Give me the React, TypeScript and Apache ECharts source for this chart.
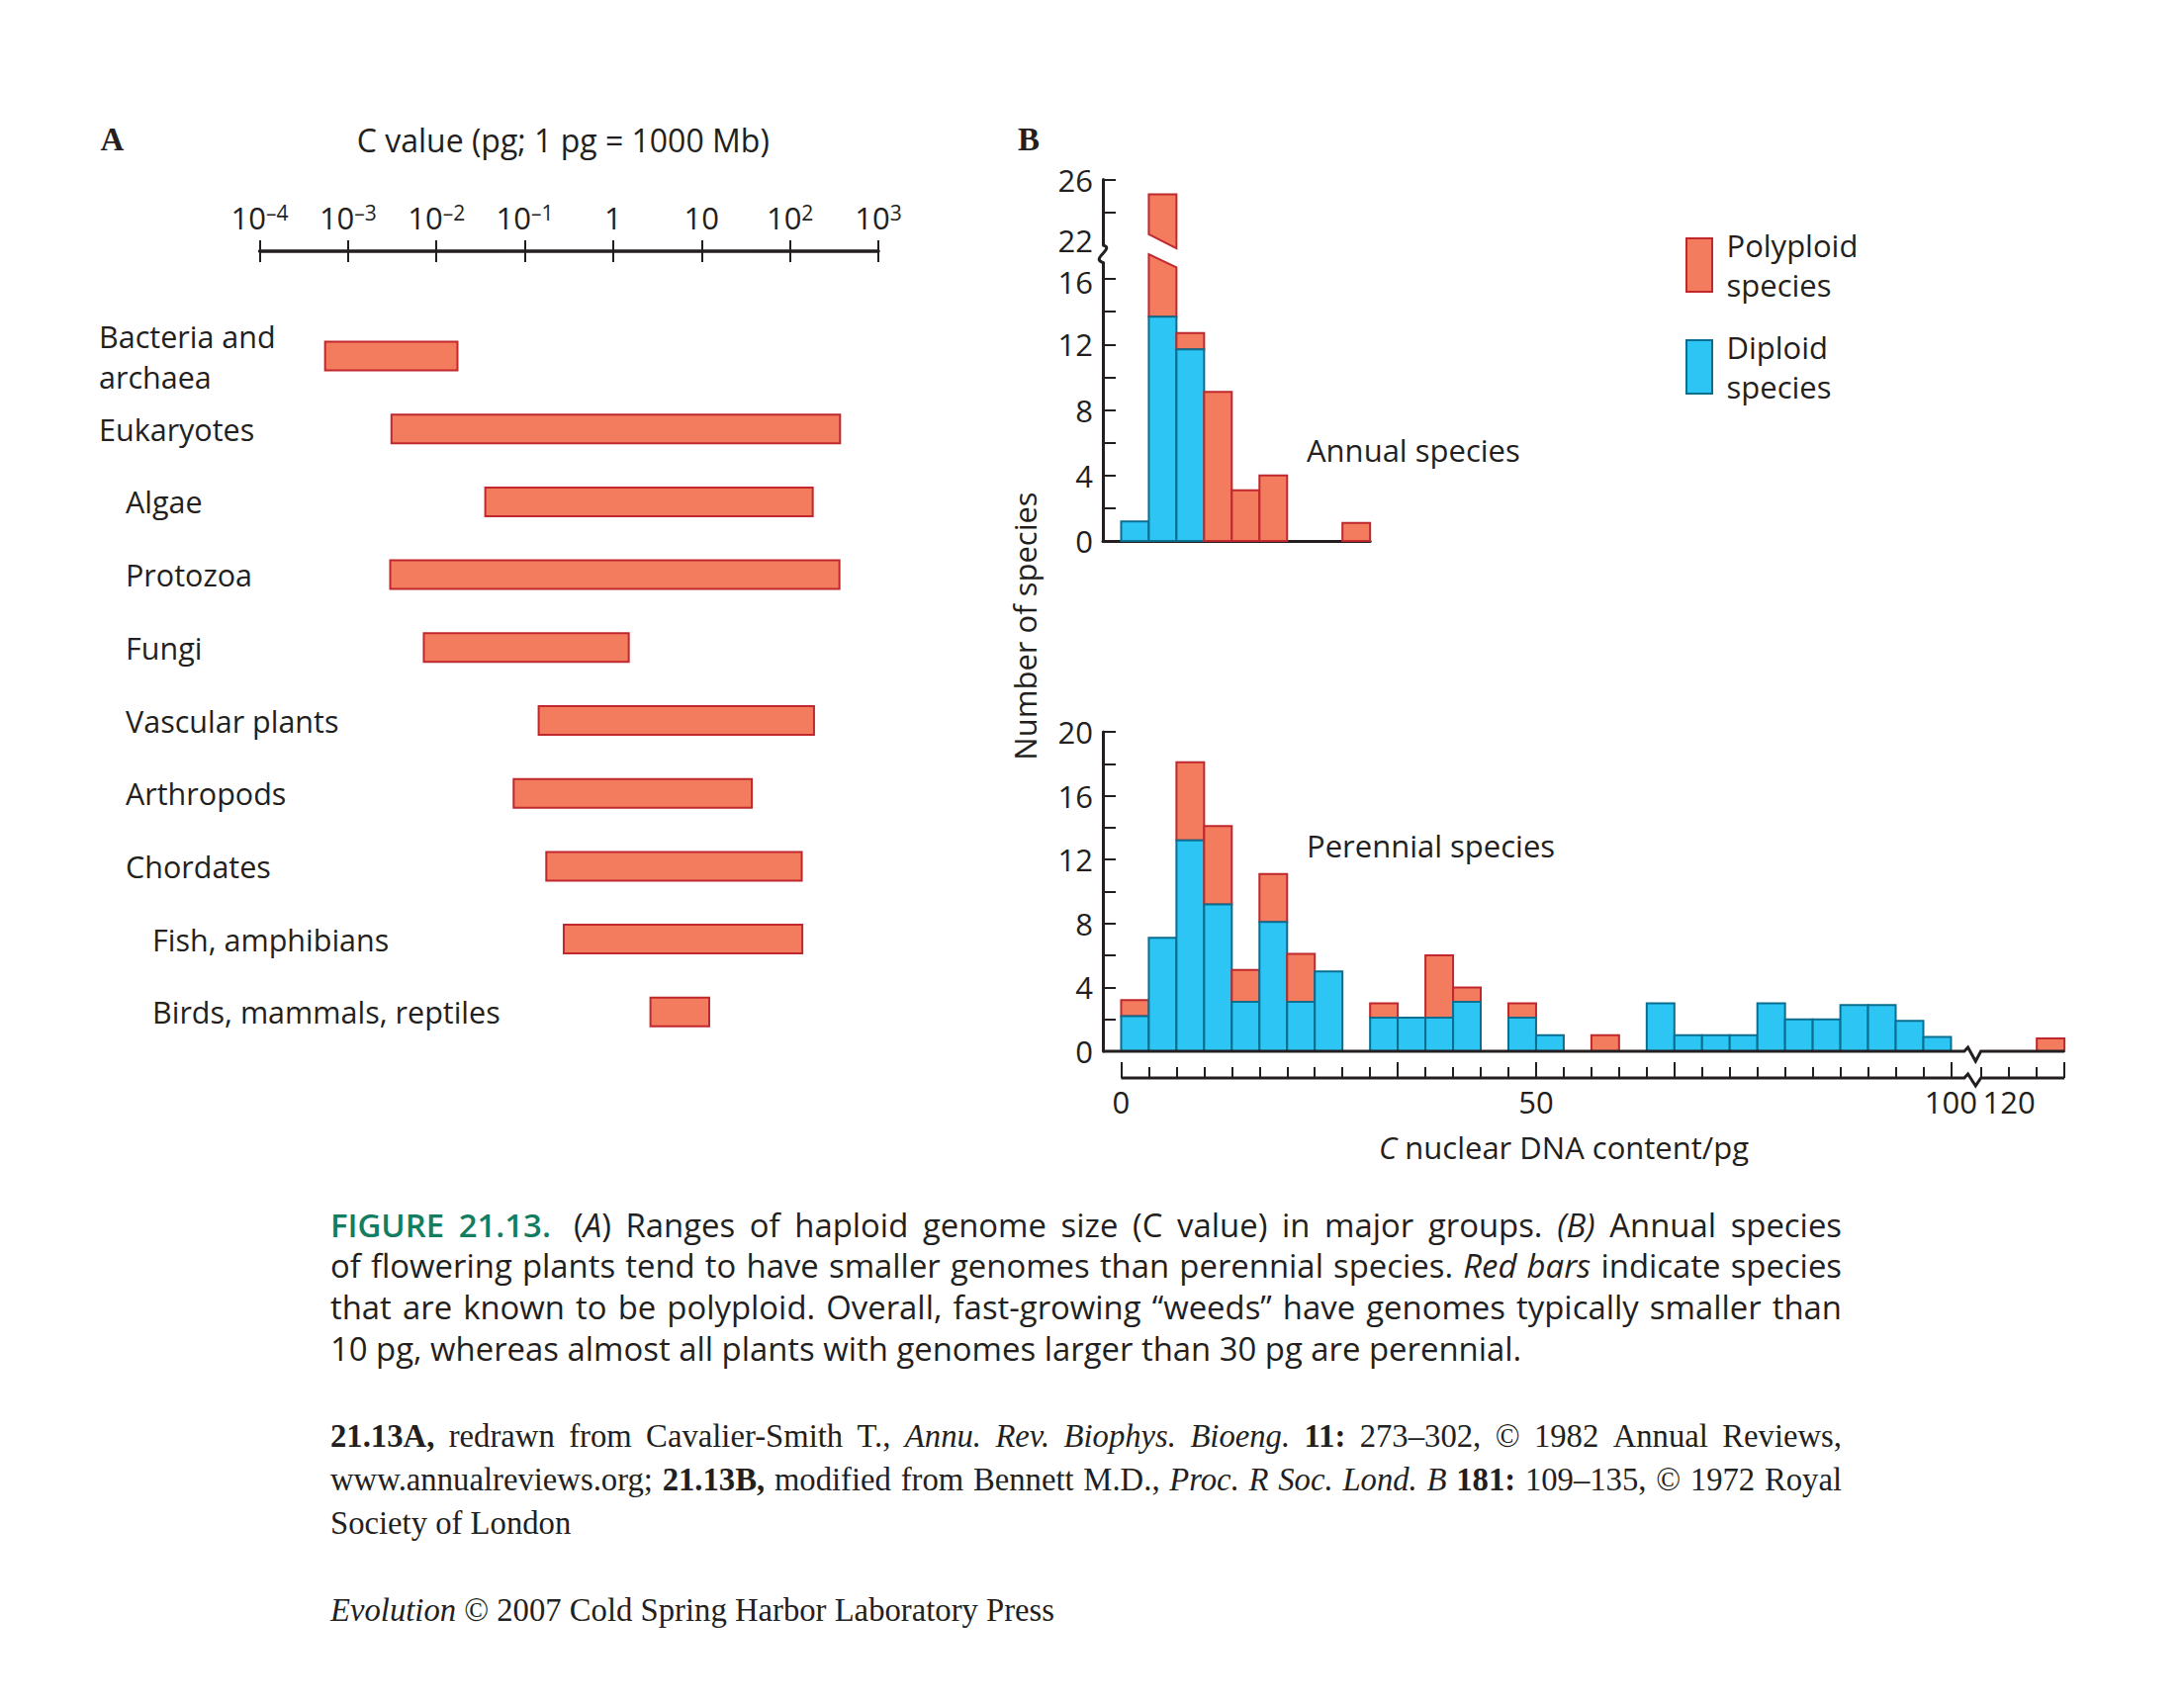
import React, { useEffect, useRef } from 'react';
import * as echarts from 'echarts';

const PAGE_W = 2208;
const PAGE_H = 1722;
const INK = '#231F20';
const SALMON = '#F37B5E';
const SALMON_EDGE = '#C0282E';
const BLUE = '#2CC5F4';
const BLUE_EDGE = '#0A6E91';
const GREEN = '#127D5F';
const SANS = 'Open Sans';
const SERIF = 'Liberation Serif';

// ---------------- Panel A data ----------------
const groupNames = [
  'Bacteria and\narchaea',
  'Eukaryotes',
  'Algae',
  'Protozoa',
  'Fungi',
  'Vascular plants',
  'Arthropods',
  'Chordates',
  'Fish, amphibians',
  'Birds, mammals, reptiles',
];
const groupIndent = [0, 0, 1, 1, 1, 1, 1, 1, 2, 2];
const cValueLow = [0.00055, 0.0031, 0.0357, 0.003, 0.0072, 0.1435, 0.0748, 0.175, 0.276, 2.64];
const cValueHigh = [0.0173, 369, 181, 363, 1.5, 187, 37, 136, 138, 12.2];
const cTickValues = [0.0001, 0.001, 0.01, 0.1, 1, 10, 100, 1000];
const cTickBase = ['10', '10', '10', '10', '1', '10', '10', '10'];
const cTickExp = ['–4', '–3', '–2', '–1', '', '', '2', '3'];

// ---------------- Panel B data ----------------
const BIN_W = 3.333;
const annualBinStart = [0, 3.333, 6.667, 10, 13.333, 16.667, 26.667];
const annualDiploid = [1.2, 13.7, 11.7, 0, 0, 0, 0];
const annualPolyploid = [0, 11.4, 1.0, 9.1, 3.1, 4.0, 1.1];
const annualLowerYTicks = [0, 2, 4, 6, 8, 10, 12, 14, 16];
const annualLowerYLabels = [0, 4, 8, 12, 16];
const annualUpperYTicks = [24, 26];
const annualUpperYLabels = [22, 26];
// slanted cut of the broken bar (left edge, right edge)
const annualLowerCut = [17.5, 16.7];
const annualUpperCut = [22.66, 21.8];

const perennialBinStart = [
  0, 3.333, 6.667, 10, 13.333, 16.667, 20, 23.333, 26.667, 30,
  33.333, 36.667, 40, 43.333, 46.667, 50, 53.333, 56.667, 60, 63.333,
  66.667, 70, 73.333, 76.667, 80, 83.333, 86.667, 90, 93.333, 96.667,
  123.333,
];
const perennialDiploid = [
  2.2, 7.1, 13.2, 9.2, 3.1, 8.1, 3.1, 5.0, 0, 2.1,
  2.1, 2.1, 3.1, 0, 2.1, 1.0, 0, 0, 0, 3.0,
  1.0, 1.0, 1.0, 3.0, 2.0, 2.0, 2.9, 2.9, 1.9, 0.9,
  0,
];
const perennialPolyploid = [
  1.0, 0, 4.9, 4.9, 2.0, 3.0, 3.0, 0, 0, 0.9,
  0, 3.9, 0.9, 0, 0.9, 0, 0, 1.0, 0, 0,
  0, 0, 0, 0, 0, 0, 0, 0, 0, 0,
  0.8,
];
const perennialYTicks = [0, 2, 4, 6, 8, 10, 12, 14, 16, 18, 20];
const perennialYLabels = [0, 4, 8, 12, 16, 20];
const pgTickValues = [
  0, 3.333, 6.667, 10, 13.333, 16.667, 20, 23.333, 26.667, 30,
  33.333, 36.667, 40, 43.333, 46.667, 50, 53.333, 56.667, 60, 63.333,
  66.667, 70, 73.333, 76.667, 80, 83.333, 86.667, 90, 93.333, 96.667,
  100, 116.667, 120, 123.333, 126.667,
];
const pgTallTickValues = [0, 33.333, 50, 66.667, 100, 126.667];
const pgLabelValues = [0, 50, 100, 120];
const legendNames = ['Polyploid\nspecies', 'Diploid\nspecies'];

// ---------------- Caption text ----------------
const captionLines = [
  [
    { t: 'FIGURE 21.13.', s: 'fig' },
    { t: '  (', s: 'n' },
    { t: 'A', s: 'i' },
    { t: ') Ranges of haploid genome size (C value) in major groups. ', s: 'n' },
    { t: '(B)', s: 'i' },
    { t: ' Annual species', s: 'n' },
  ],
  [
    { t: 'of flowering plants tend to have smaller genomes than perennial species. ', s: 'n' },
    { t: 'Red bars', s: 'i' },
    { t: ' indicate species', s: 'n' },
  ],
  [{ t: 'that are known to be polyploid. Overall, fast-growing “weeds” have genomes typically smaller than', s: 'n' }],
  [{ t: '10 pg, whereas almost all plants with genomes larger than 30 pg are perennial.', s: 'n' }],
];
const refLines = [
  [
    { t: '21.13A,', s: 'b' },
    { t: ' redrawn from Cavalier-Smith T., ', s: 'n' },
    { t: 'Annu. Rev. Biophys. Bioeng.', s: 'i' },
    { t: ' ', s: 'n' },
    { t: '11:', s: 'b' },
    { t: ' 273–302, © 1982 Annual Reviews,', s: 'n' },
  ],
  [
    { t: 'www.annualreviews.org; ', s: 'n' },
    { t: '21.13B,', s: 'b' },
    { t: ' modified from Bennett M.D., ', s: 'n' },
    { t: 'Proc. R Soc. Lond. B', s: 'i' },
    { t: ' ', s: 'n' },
    { t: '181:', s: 'b' },
    { t: ' 109–135, © 1972 Royal', s: 'n' },
  ],
  [{ t: 'Society of London', s: 'n' }],
];
const creditLine = [
  { t: 'Evolution', s: 'i' },
  { t: ' © 2007 Cold Spring Harbor Laboratory Press', s: 'n' },
];

// ---------------- Layout constants ----------------
const A_X0 = 262.5;
const A_X1 = 888;
const A_AXIS_Y = 254;
const A_ROW0 = 360;
const A_ROW_STEP = 73.7;
const A_GRID_TOP = A_ROW0 - A_ROW_STEP / 2;
const A_LABEL_X = 100;
const A_INDENT = 27;
const A_BAR_H = 29;

const B_AXIS_X = 1115;
const B_PX = 8.39;
const B_XMIN = -2.2;
const ANNUAL_XMAX = 30;
const BREAK_SHIFT = 13;
const PER_XMAX = 126.667 - BREAK_SHIFT;
const NOTCH = [101.6, 103.6];
const AU_TOP = 181.5;
const AU_MIN = 22;
const AU_MAX = 26;
const AU_H = (AU_MAX - AU_MIN) * 16.6;
const AL_BOTTOM = 547;
const AL_MAX = 17;
const AL_H = AL_MAX * 16.56;
const AL_TOP = AL_BOTTOM - AL_H;
const P_TOP = 740;
const P_BOTTOM = 1063;
const AXIS_OFFSET = 27;

const CAP_LEFT = 334;
const CAP_RIGHT = 1862;
const CAP_Y0 = 1238;
const CAP_DY = 41.8;
const CAP_LAST_W = 1255;
const REF_Y0 = 1452;
const REF_DY = 44;
const CREDIT_Y = 1628;
const CREDIT_W = 780;

const toAxis = (v: number) => (v > 110 ? v - BREAK_SHIFT : v);
const fromAxis = (v: number) => (v > 102 ? v + BREAK_SHIFT : v);

// ---------------- Text layout helpers ----------------
function splitWords(runs: any[]) {
  const words: any[] = [];
  let cur: any = null;
  let extra = 0;
  for (const r of runs) {
    const parts = r.t.split(' ');
    parts.forEach((p: string, k: number) => {
      if (k > 0) {
        if (cur) {
          words.push(cur);
          cur = null;
        } else if (words.length) {
          extra++;
        }
      }
      if (p) {
        if (!cur) {
          cur = { runs: [], extra };
          extra = 0;
        }
        cur.runs.push({ t: p, s: r.s });
      }
    });
  }
  if (cur) words.push(cur);
  return words;
}

function makeMeasurer() {
  const ctx = document.createElement('canvas').getContext('2d') as CanvasRenderingContext2D;
  return (text: string, st: any, size: number) => {
    ctx.font = `${st.fontStyle || 'normal'} ${st.fontWeight || 'normal'} ${size}px "${st.fontFamily}"`;
    return ctx.measureText(text).width;
  };
}

function naturalWidth(runs: any[], styles: any, size: number, measure: any) {
  const words = splitWords(runs);
  const sp = measure(' ', styles.n, size);
  let w = 0;
  words.forEach((wd: any, i: number) => {
    wd.runs.forEach((r: any) => (w += measure(r.t, styles[r.s], size)));
    if (i > 0) w += sp * (1 + wd.extra);
  });
  return w;
}

// font size: the last line fits its reference width, justified lines fit the column
function fitSize(lines: any[], lastRuns: any[], lastW: number, colW: number, styles: any, measure: any) {
  let size = (100 * lastW) / naturalWidth(lastRuns, styles, 100, measure);
  lines.forEach((ln: any) => {
    const s = (100 * colW * 0.985) / naturalWidth(ln, styles, 100, measure);
    if (s < size) size = s;
  });
  return size;
}

function layoutLine(runs: any[], styles: any, size: number, left: number, width: number, y: number, justify: boolean, measure: any) {
  const words = splitWords(runs);
  const widths = words.map((wd: any) => wd.runs.reduce((a: number, r: any) => a + measure(r.t, styles[r.s], size), 0));
  const sp = measure(' ', styles.n, size);
  const extras = words.reduce((a: number, wd: any) => a + wd.extra, 0);
  const total = widths.reduce((a: number, b: number) => a + b, 0) + extras * sp;
  const gap = justify && words.length > 1 ? (width - total) / (words.length - 1) : sp;
  const els: any[] = [];
  let x = left;
  words.forEach((wd: any, i: number) => {
    if (i > 0) x += gap + wd.extra * sp;
    wd.runs.forEach((r: any) => {
      const st = styles[r.s];
      els.push({
        type: 'text',
        x,
        y,
        silent: true,
        style: {
          text: r.t,
          fill: st.fill,
          fontSize: size,
          fontFamily: st.fontFamily,
          fontWeight: st.fontWeight || 'normal',
          fontStyle: st.fontStyle || 'normal',
          align: 'left',
          verticalAlign: 'middle',
          textAlign: 'left',
          textVerticalAlign: 'middle',
        },
      });
      x += measure(r.t, st, size);
    });
  });
  return els;
}

function textEl(x: number, y: number, text: string, extra: any = {}) {
  return {
    type: 'text',
    x,
    y,
    silent: true,
    rotation: extra.rotation || 0,
    style: {
      text,
      fill: INK,
      fontSize: extra.fontSize || 31,
      fontFamily: extra.fontFamily || SANS,
      fontWeight: extra.fontWeight || 'normal',
      lineHeight: extra.lineHeight,
      rich: extra.rich,
      align: extra.align || 'left',
      verticalAlign: 'middle',
      textAlign: extra.align || 'left',
      textVerticalAlign: 'middle',
    },
  };
}

// ---------------- Render helpers ----------------
const polyStyle = { fill: SALMON, stroke: SALMON_EDGE, lineWidth: 2 };
const dipStyle = { fill: BLUE, stroke: BLUE_EDGE, lineWidth: 2 };

function histRender(mode: string) {
  return (params: any, api: any) => {
    const s = api.value(0);
    const e = api.value(1);
    const d = api.value(2);
    const p = api.value(3);
    const x0 = api.coord([s, 0])[0];
    const x1 = api.coord([e, 0])[0];
    const y = (v: number) => api.coord([s, v])[1];
    const total = d + p;
    const kids: any[] = [];
    if (mode === 'upper') {
      if (total > AU_MIN) {
        kids.push({
          type: 'polygon',
          shape: { points: [[x0, y(annualUpperCut[0])], [x1, y(annualUpperCut[1])], [x1, y(total)], [x0, y(total)]] },
          style: polyStyle,
        });
      }
      return { type: 'group', children: kids };
    }
    if (p > 0) {
      if (mode === 'lower' && total > AL_MAX) {
        kids.push({
          type: 'polygon',
          shape: { points: [[x0, y(d)], [x1, y(d)], [x1, y(annualLowerCut[1])], [x0, y(annualLowerCut[0])]] },
          style: polyStyle,
        });
      } else {
        kids.push({ type: 'rect', shape: { x: x0, y: y(total), width: x1 - x0, height: y(d) - y(total) }, style: polyStyle });
      }
    }
    if (d > 0) {
      kids.push({ type: 'rect', shape: { x: x0, y: y(d), width: x1 - x0, height: y(0) - y(d) }, style: dipStyle });
    }
    return { type: 'group', children: kids };
  };
}

function axesRender(params: any, api: any) {
  const y0 = api.coord([0, 0])[1];
  const px = (v: number) => api.coord([v, 0])[0];
  const notch = (dy: number, depth: number) => {
    const a = px(NOTCH[0]);
    const b = px(NOTCH[1]);
    const w = b - a;
    return [
      [a, y0 + dy],
      [a + 0.22 * w, y0 + dy - 4],
      [a + 0.68 * w, y0 + dy + depth],
      [b, y0 + dy],
    ];
  };
  const base = [[px(B_XMIN), y0], ...notch(0, 10), [px(PER_XMAX), y0]];
  const bottom = [[px(0), y0 + AXIS_OFFSET], ...notch(AXIS_OFFSET, 8), [px(PER_XMAX), y0 + AXIS_OFFSET]];
  const ls = { stroke: INK, lineWidth: 3, fill: 'none', lineJoin: 'miter' };
  return {
    type: 'group',
    children: [
      { type: 'polyline', shape: { points: base }, style: ls },
      { type: 'polyline', shape: { points: bottom }, style: ls },
    ],
  };
}

function buildOption() {
  const measure = makeMeasurer();
  const capStyles = {
    n: { fontFamily: SANS, fill: INK },
    i: { fontFamily: SANS, fill: INK, fontStyle: 'italic' },
    fig: { fontFamily: SANS, fill: GREEN, fontWeight: 600 },
  };
  const refStyles = {
    n: { fontFamily: SERIF, fill: INK },
    i: { fontFamily: SERIF, fill: INK, fontStyle: 'italic' },
    b: { fontFamily: SERIF, fill: INK, fontWeight: 'bold' },
  };
  const colW = CAP_RIGHT - CAP_LEFT;
  const capSize = fitSize(captionLines.slice(0, 3), captionLines[3], CAP_LAST_W, colW, capStyles, measure);
  const refSize = fitSize(refLines.slice(0, 2), creditLine, CREDIT_W, colW, refStyles, measure);

  const captionEls: any[] = [];
  captionLines.forEach((ln, i) => {
    captionEls.push(...layoutLine(ln, capStyles, capSize, CAP_LEFT, colW, CAP_Y0 + i * CAP_DY, i < captionLines.length - 1, measure));
  });
  refLines.forEach((ln, i) => {
    captionEls.push(...layoutLine(ln, refStyles, refSize, CAP_LEFT, colW, REF_Y0 + i * REF_DY, i < refLines.length - 1, measure));
  });
  captionEls.push(...layoutLine(creditLine, refStyles, refSize, CAP_LEFT, colW, CREDIT_Y, false, measure));

  const labelRich: any = {};
  [0, 1, 2].forEach((lv) => {
    labelRich['l' + lv] = {
      fontFamily: SANS,
      fontSize: 30.5,
      color: INK,
      lineHeight: 41,
      padding: [0, 0, 0, lv * A_INDENT],
    };
  });

  const legendX = 1705;
  const legendW = 26;
  const legendH = 54;
  const legendY = [241, 344];
  const legendColors = [polyStyle, dipStyle];

  const graphics: any[] = [
    textEl(101.5, 141, 'A', { fontFamily: SERIF, fontWeight: 'bold', fontSize: 33 }),
    textEl(1029, 141, 'B', { fontFamily: SERIF, fontWeight: 'bold', fontSize: 33 }),
    textEl((A_X0 + A_X1) / 2 - 6, 141, 'C value (pg; 1 pg = 1000 Mb)', { fontSize: 32, align: 'center' }),
    textEl(1036, 633, 'Number of species', { rotation: Math.PI / 2, align: 'center', fontSize: 31 }),
    textEl(1321, 455, 'Annual species', { fontSize: 31 }),
    textEl(1321, 854.5, 'Perennial species', { fontSize: 31 }),
    textEl(1581, 1160, '{i|C} nuclear DNA content/pg', {
      fontSize: 31,
      align: 'center',
      rich: { i: { fontStyle: 'italic', fontSize: 31, fontFamily: SANS, color: INK } },
    }),
    {
      type: 'bezierCurve',
      silent: true,
      shape: {
        x1: B_AXIS_X,
        y1: AU_TOP + AU_H,
        x2: B_AXIS_X,
        y2: AL_TOP,
        cpx1: B_AXIS_X + 13,
        cpy1: AU_TOP + AU_H + 3,
        cpx2: B_AXIS_X - 13,
        cpy2: AL_TOP - 4,
      },
      style: { stroke: INK, lineWidth: 3, fill: 'none' },
    },
    ...legendNames.map((n, i) => ({
      type: 'rect',
      silent: true,
      shape: { x: legendX, y: legendY[i], width: legendW, height: legendH },
      style: legendColors[i],
    })),
    ...legendNames.map((n, i) => textEl(1745.5, legendY[i] + legendH / 2, n, { fontSize: 31, lineHeight: 40 })),
    ...captionEls,
  ];

  const pAxisCommon = { type: 'value', gridIndex: 3, min: B_XMIN, max: PER_XMAX, splitLine: { show: false } };
  const bAxisLabel = { color: INK, fontFamily: SANS, fontSize: 31 };
  const bRich = {
    up: { color: INK, fontFamily: SANS, fontSize: 31, padding: [0, 0, 10, 0] },
    dn: { color: INK, fontFamily: SANS, fontSize: 31, padding: [6, 0, 0, 0] },
  };
  // labels next to the axis break are nudged apart so they do not collide
  const yAxisB = (grid: number, min: number, max: number, ticks: number[], labels: number[], nudge: string, nudgeValue: number) => ({
    type: 'value',
    gridIndex: grid,
    min,
    max,
    axisLine: { show: true, onZero: false, lineStyle: { color: INK, width: 3 } },
    axisTick: { show: true, inside: true, length: 13, customValues: ticks, lineStyle: { color: INK, width: 2 } },
    axisLabel: {
      show: true,
      customValues: labels,
      margin: 10,
      ...bAxisLabel,
      formatter: (v: number) => (nudge && v === nudgeValue ? `{${nudge}|${v}}` : String(v)),
      rich: bRich,
    },
    splitLine: { show: false },
  });

  return {
    animation: false,
    backgroundColor: '#ffffff',
    grid: [
      { left: A_X0, top: A_GRID_TOP, width: A_X1 - A_X0, height: A_ROW_STEP * groupNames.length, containLabel: false, outerBoundsMode: 'none' },
      { left: B_AXIS_X, top: AU_TOP, width: (ANNUAL_XMAX - B_XMIN) * B_PX, height: AU_H, containLabel: false, outerBoundsMode: 'none' },
      { left: B_AXIS_X, top: AL_TOP, width: (ANNUAL_XMAX - B_XMIN) * B_PX, height: AL_H, containLabel: false, outerBoundsMode: 'none' },
      { left: B_AXIS_X, top: P_TOP, width: (PER_XMAX - B_XMIN) * B_PX, height: P_BOTTOM - P_TOP, containLabel: false, outerBoundsMode: 'none' },
    ],
    xAxis: [
      {
        type: 'log',
        logBase: 10,
        gridIndex: 0,
        min: cTickValues[0],
        max: cTickValues[cTickValues.length - 1],
        position: 'top',
        offset: A_GRID_TOP - A_AXIS_Y,
        axisLine: { show: true, lineStyle: { color: INK, width: 3.5 } },
        axisTick: { show: true, inside: false, length: 11, customValues: cTickValues, lineStyle: { color: INK, width: 2 } },
        axisLabel: {
          show: true,
          customValues: cTickValues,
          margin: 19,
          formatter: (v: number) => {
            let idx = 0;
            let best = Infinity;
            cTickValues.forEach((t, i) => {
              const dd = Math.abs(Math.log10(t) - Math.log10(v));
              if (dd < best) {
                best = dd;
                idx = i;
              }
            });
            return cTickExp[idx] ? `{b|${cTickBase[idx]}}{s|${cTickExp[idx]}}` : `{b|${cTickBase[idx]}}`;
          },
          rich: {
            b: { fontFamily: SANS, fontSize: 31, color: INK, lineHeight: 31 },
            s: { fontFamily: SANS, fontSize: 21, color: INK, lineHeight: 21, verticalAlign: 'top' },
          },
        },
        splitLine: { show: false },
      },
      {
        type: 'log',
        logBase: 10,
        gridIndex: 0,
        min: cTickValues[0],
        max: cTickValues[cTickValues.length - 1],
        position: 'top',
        offset: A_GRID_TOP - A_AXIS_Y,
        axisLine: { show: false },
        axisTick: { show: true, inside: true, length: 11, customValues: cTickValues, lineStyle: { color: INK, width: 2 } },
        axisLabel: { show: false },
        splitLine: { show: false },
      },
      { type: 'value', gridIndex: 1, min: B_XMIN, max: ANNUAL_XMAX, show: false },
      {
        type: 'value',
        gridIndex: 2,
        min: B_XMIN,
        max: ANNUAL_XMAX,
        axisLine: { show: true, onZero: false, lineStyle: { color: INK, width: 3 } },
        axisTick: { show: false },
        axisLabel: { show: false },
        splitLine: { show: false },
      },
      { ...pAxisCommon, show: false },
      {
        ...pAxisCommon,
        position: 'bottom',
        offset: AXIS_OFFSET,
        axisLine: { show: false, onZero: false },
        axisTick: { show: true, inside: true, length: 11, customValues: pgTickValues.map(toAxis), lineStyle: { color: INK, width: 2 } },
        axisLabel: {
          show: true,
          customValues: pgLabelValues.map(toAxis),
          margin: 8,
          formatter: (v: number) => String(Math.round(fromAxis(v))),
          ...bAxisLabel,
        },
      },
      {
        ...pAxisCommon,
        position: 'bottom',
        offset: AXIS_OFFSET,
        axisLine: { show: false, onZero: false },
        axisTick: { show: true, inside: true, length: 16, customValues: pgTallTickValues.map(toAxis), lineStyle: { color: INK, width: 2 } },
        axisLabel: { show: false },
      },
    ],
    yAxis: [
      {
        type: 'category',
        gridIndex: 0,
        inverse: true,
        data: groupNames,
        axisLine: { show: false },
        axisTick: { show: false },
        splitLine: { show: false },
        axisLabel: {
          show: true,
          interval: 0,
          align: 'left',
          margin: A_X0 - A_LABEL_X,
          formatter: (v: string, i: number) =>
            v
              .split('\n')
              .map((l) => `{l${groupIndent[i]}|${l}}`)
              .join('\n'),
          rich: labelRich,
        },
      },
      yAxisB(1, AU_MIN, AU_MAX, annualUpperYTicks, annualUpperYLabels, 'up', 22),
      yAxisB(2, 0, AL_MAX, annualLowerYTicks, annualLowerYLabels, 'dn', 16),
      yAxisB(3, 0, 20, perennialYTicks, perennialYLabels, '', 0),
    ],
    series: [
      {
        type: 'custom',
        name: 'C value range',
        xAxisIndex: 0,
        yAxisIndex: 0,
        encode: { x: [1, 2], y: 0 },
        data: groupNames.map((n, i) => [i, cValueLow[i], cValueHigh[i]]),
        renderItem: (params: any, api: any) => {
          const a = api.coord([api.value(1), api.value(0)]);
          const b = api.coord([api.value(2), api.value(0)]);
          return {
            type: 'rect',
            shape: { x: a[0], y: a[1] - A_BAR_H / 2, width: b[0] - a[0], height: A_BAR_H },
            style: { fill: SALMON, stroke: SALMON_EDGE, lineWidth: 2 },
          };
        },
      },
      {
        type: 'custom',
        name: 'Annual (lower)',
        xAxisIndex: 3,
        yAxisIndex: 2,
        encode: { x: [0, 1], y: 2 },
        data: annualBinStart.map((s, i) => [s, s + BIN_W, annualDiploid[i], annualPolyploid[i]]),
        renderItem: histRender('lower'),
      },
      {
        type: 'custom',
        name: 'Annual (upper)',
        xAxisIndex: 2,
        yAxisIndex: 1,
        encode: { x: [0, 1], y: 2 },
        data: annualBinStart.map((s, i) => [s, s + BIN_W, annualDiploid[i], annualPolyploid[i]]),
        renderItem: histRender('upper'),
      },
      {
        type: 'custom',
        name: 'Perennial',
        xAxisIndex: 4,
        yAxisIndex: 3,
        encode: { x: [0, 1], y: 2 },
        data: perennialBinStart.map((s, i) => [toAxis(s), toAxis(s) + BIN_W, perennialDiploid[i], perennialPolyploid[i]]),
        renderItem: histRender('plain'),
      },
      {
        type: 'custom',
        name: 'Perennial axes',
        xAxisIndex: 4,
        yAxisIndex: 3,
        silent: true,
        data: [[0, 0]],
        renderItem: axesRender,
      },
    ],
    graphic: { elements: graphics },
  };
}

export default function App() {
  const ref = useRef<HTMLDivElement>(null);
  useEffect(() => {
    document.body.style.margin = '0';
    const chart = echarts.init(ref.current as HTMLDivElement, undefined, { renderer: 'svg' });
    chart.setOption(buildOption() as any);
    return () => {
      chart.dispose();
    };
  }, []);
  return <div ref={ref} style={{ width: PAGE_W, height: PAGE_H, background: '#fff' }} />;
}
